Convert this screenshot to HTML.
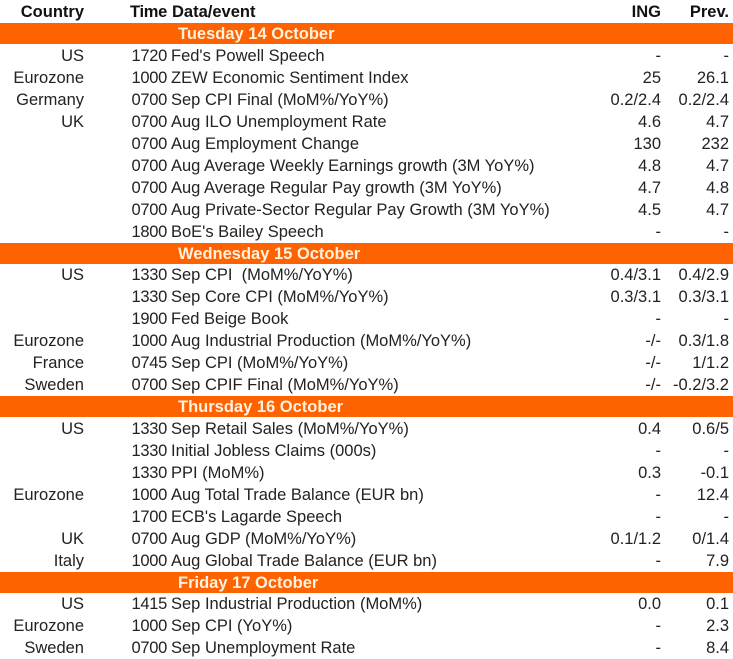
<!DOCTYPE html>
<html><head><meta charset="utf-8"><style>
body{margin:0;width:733px;height:659px;background:#fff;font-family:"Liberation Sans",sans-serif;font-size:16.5px;color:#222;overflow:hidden;position:relative}
.r{position:absolute;left:0;width:733px;height:22px;line-height:22px}
.r span{position:absolute;white-space:nowrap}
.c{right:649px;text-align:right}
.t{right:566px;letter-spacing:-0.3px}
.e{left:171px}
.i{right:72px}
.p{right:4px}
.h{font-weight:bold;color:#111}
.o{background:#ff6200;color:#fff2e0;font-weight:bold;height:21px;top:auto}
.o span{left:178px}
</style></head><body>
<div class="r h" style="top:1px"><span class="c">Country</span><span class="t">Time</span><span class="e" style="left:172px">Data/event</span><span class="i">ING</span><span class="p">Prev.</span></div>
<div class="r o" style="top:23px"><span>Tuesday 14 October</span></div>
<div class="r" style="top:45px"><span class="c">US</span><span class="t">1720</span><span class="e">Fed's Powell Speech</span><span class="i">-</span><span class="p">-</span></div>
<div class="r" style="top:67px"><span class="c">Eurozone</span><span class="t">1000</span><span class="e">ZEW Economic Sentiment Index</span><span class="i">25</span><span class="p">26.1</span></div>
<div class="r" style="top:89px"><span class="c">Germany</span><span class="t">0700</span><span class="e">Sep CPI Final (MoM%/YoY%)</span><span class="i">0.2/2.4</span><span class="p">0.2/2.4</span></div>
<div class="r" style="top:111px"><span class="c">UK</span><span class="t">0700</span><span class="e">Aug ILO Unemployment Rate</span><span class="i">4.6</span><span class="p">4.7</span></div>
<div class="r" style="top:133px"><span class="t">0700</span><span class="e">Aug Employment Change</span><span class="i">130</span><span class="p">232</span></div>
<div class="r" style="top:155px"><span class="t">0700</span><span class="e">Aug Average Weekly Earnings growth (3M YoY%)</span><span class="i">4.8</span><span class="p">4.7</span></div>
<div class="r" style="top:177px"><span class="t">0700</span><span class="e">Aug Average Regular Pay growth (3M YoY%)</span><span class="i">4.7</span><span class="p">4.8</span></div>
<div class="r" style="top:199px"><span class="t">0700</span><span class="e">Aug Private-Sector Regular Pay Growth (3M YoY%)</span><span class="i">4.5</span><span class="p">4.7</span></div>
<div class="r" style="top:221px"><span class="t">1800</span><span class="e">BoE's Bailey Speech</span><span class="i">-</span><span class="p">-</span></div>
<div class="r o" style="top:243px"><span>Wednesday 15 October</span></div>
<div class="r" style="top:264px"><span class="c">US</span><span class="t">1330</span><span class="e">Sep CPI &nbsp;(MoM%/YoY%)</span><span class="i">0.4/3.1</span><span class="p">0.4/2.9</span></div>
<div class="r" style="top:286px"><span class="t">1330</span><span class="e">Sep Core CPI (MoM%/YoY%)</span><span class="i">0.3/3.1</span><span class="p">0.3/3.1</span></div>
<div class="r" style="top:308px"><span class="t">1900</span><span class="e">Fed Beige Book</span><span class="i">-</span><span class="p">-</span></div>
<div class="r" style="top:330px"><span class="c">Eurozone</span><span class="t">1000</span><span class="e">Aug Industrial Production (MoM%/YoY%)</span><span class="i">-/-</span><span class="p">0.3/1.8</span></div>
<div class="r" style="top:352px"><span class="c">France</span><span class="t">0745</span><span class="e">Sep CPI (MoM%/YoY%)</span><span class="i">-/-</span><span class="p">1/1.2</span></div>
<div class="r" style="top:374px"><span class="c">Sweden</span><span class="t">0700</span><span class="e">Sep CPIF Final (MoM%/YoY%)</span><span class="i">-/-</span><span class="p">-0.2/3.2</span></div>
<div class="r o" style="top:396px"><span>Thursday 16 October</span></div>
<div class="r" style="top:418px"><span class="c">US</span><span class="t">1330</span><span class="e">Sep Retail Sales (MoM%/YoY%)</span><span class="i">0.4</span><span class="p">0.6/5</span></div>
<div class="r" style="top:440px"><span class="t">1330</span><span class="e">Initial Jobless Claims (000s)</span><span class="i">-</span><span class="p">-</span></div>
<div class="r" style="top:462px"><span class="t">1330</span><span class="e">PPI (MoM%)</span><span class="i">0.3</span><span class="p">-0.1</span></div>
<div class="r" style="top:484px"><span class="c">Eurozone</span><span class="t">1000</span><span class="e">Aug Total Trade Balance (EUR bn)</span><span class="i">-</span><span class="p">12.4</span></div>
<div class="r" style="top:506px"><span class="t">1700</span><span class="e">ECB's Lagarde Speech</span><span class="i">-</span><span class="p">-</span></div>
<div class="r" style="top:528px"><span class="c">UK</span><span class="t">0700</span><span class="e">Aug GDP (MoM%/YoY%)</span><span class="i">0.1/1.2</span><span class="p">0/1.4</span></div>
<div class="r" style="top:550px"><span class="c">Italy</span><span class="t">1000</span><span class="e">Aug Global Trade Balance (EUR bn)</span><span class="i">-</span><span class="p">7.9</span></div>
<div class="r o" style="top:572px"><span>Friday 17 October</span></div>
<div class="r" style="top:593px"><span class="c">US</span><span class="t">1415</span><span class="e">Sep Industrial Production (MoM%)</span><span class="i">0.0</span><span class="p">0.1</span></div>
<div class="r" style="top:615px"><span class="c">Eurozone</span><span class="t">1000</span><span class="e">Sep CPI (YoY%)</span><span class="i">-</span><span class="p">2.3</span></div>
<div class="r" style="top:637px"><span class="c">Sweden</span><span class="t">0700</span><span class="e">Sep Unemployment Rate</span><span class="i">-</span><span class="p">8.4</span></div>
</body></html>
